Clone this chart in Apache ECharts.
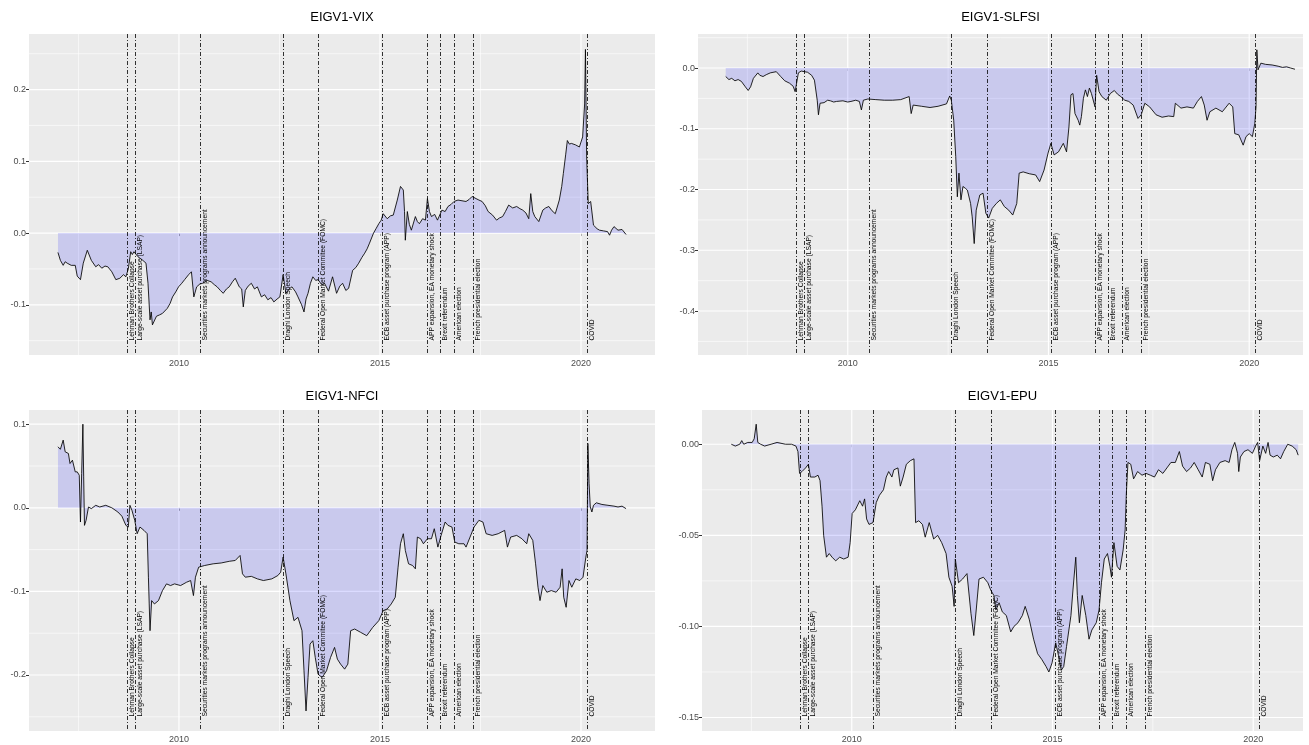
<!DOCTYPE html>
<html>
<head>
<meta charset="utf-8">
<script src="https://cdn.jsdelivr.net/npm/echarts@6/dist/echarts.min.js"></script>
<style>
  html, body { margin: 0; padding: 0; background: #ffffff; }
  #chart { width: 1309px; height: 745px; }
</style>
</head>
<body>
<div id="chart"></div>
<script>
// ---- Events marked on every panel (decimal years) ----
const EVENT_YEARS = [2008.71, 2008.91, 2010.52, 2012.58, 2013.46, 2015.06, 2016.17, 2016.49, 2016.84, 2017.31, 2020.15];
const EVENT_LABELS = [
  'Lehman Brothers Collapse',
  'Large-scale asset purchase (LSAP)',
  'Securities markets programs announcement',
  'Draghi London Speech',
  'Federal Open Market Commitee (FOMC)',
  'ECB asset purchase program (APP)',
  'APP expansion, EA monetary shock',
  'Brexit referendum',
  'American election',
  'French presidential election',
  'COVID'
];

// ---- Axis tick labels ----
const YEAR_TICKS = [2010, 2015, 2020];
const VIX_TICKS = [-0.1, 0.0, 0.1, 0.2];
const SLFSI_TICKS = [-0.4, -0.3, -0.2, -0.1, 0.0];
const NFCI_TICKS = [-0.2, -0.1, 0.0, 0.1];
const EPU_TICKS = [-0.15, -0.10, -0.05, 0.00];

// ---- Series: [decimal year, EIGV1 correlation] ----
const VIX = [
  [2006.99,-0.027],[2007.05,-0.038],[2007.12,-0.045],[2007.17,-0.040],[2007.22,-0.042],[2007.32,-0.045],[2007.42,-0.045],
  [2007.47,-0.060],[2007.55,-0.065],[2007.62,-0.042],[2007.72,-0.024],[2007.82,-0.038],[2007.93,-0.047],[2008.00,-0.044],
  [2008.08,-0.049],[2008.16,-0.046],[2008.23,-0.047],[2008.33,-0.054],[2008.43,-0.065],[2008.53,-0.063],[2008.62,-0.058],
  [2008.68,-0.061],[2008.74,-0.050],[2008.80,-0.026],[2008.84,-0.030],[2008.88,-0.026],[2008.98,-0.033],[2009.10,-0.038],
  [2009.18,-0.042],[2009.23,-0.070],[2009.28,-0.121],[2009.31,-0.110],[2009.34,-0.128],[2009.44,-0.116],[2009.52,-0.114],
  [2009.59,-0.112],[2009.71,-0.105],[2009.78,-0.098],[2009.84,-0.089],[2009.92,-0.082],[2009.99,-0.075],[2010.07,-0.070],
  [2010.14,-0.065],[2010.24,-0.058],[2010.31,-0.054],[2010.37,-0.089],[2010.44,-0.075],[2010.52,-0.071],[2010.59,-0.070],
  [2010.70,-0.066],[2010.80,-0.068],[2010.88,-0.072],[2010.95,-0.075],[2011.03,-0.080],[2011.10,-0.084],[2011.18,-0.078],
  [2011.25,-0.075],[2011.33,-0.068],[2011.40,-0.063],[2011.50,-0.075],[2011.56,-0.078],[2011.60,-0.103],[2011.65,-0.080],
  [2011.72,-0.074],[2011.80,-0.070],[2011.88,-0.078],[2011.95,-0.075],[2012.05,-0.089],[2012.13,-0.086],[2012.21,-0.093],
  [2012.29,-0.090],[2012.36,-0.096],[2012.44,-0.092],[2012.51,-0.089],[2012.59,-0.058],[2012.66,-0.084],[2012.74,-0.078],
  [2012.81,-0.075],[2012.90,-0.082],[2012.96,-0.089],[2013.05,-0.100],[2013.11,-0.110],[2013.16,-0.092],[2013.21,-0.084],
  [2013.27,-0.070],[2013.33,-0.061],[2013.40,-0.066],[2013.46,-0.065],[2013.55,-0.072],[2013.62,-0.070],[2013.72,-0.081],
  [2013.82,-0.061],[2013.92,-0.084],[2014.00,-0.074],[2014.07,-0.070],[2014.15,-0.080],[2014.22,-0.077],[2014.32,-0.052],
  [2014.40,-0.048],[2014.47,-0.042],[2014.55,-0.034],[2014.62,-0.028],[2014.68,-0.022],[2014.74,-0.014],[2014.84,0.000],
  [2014.90,0.006],[2014.97,0.013],[2015.03,0.018],[2015.08,0.027],[2015.18,0.020],[2015.26,0.024],[2015.33,0.025],
  [2015.43,0.046],[2015.51,0.065],[2015.58,0.060],[2015.61,0.030],[2015.63,-0.010],[2015.68,0.030],[2015.73,0.012],
  [2015.78,0.004],[2015.88,0.023],[2015.93,0.016],[2015.98,0.013],[2016.06,0.020],[2016.13,0.018],[2016.18,0.048],
  [2016.23,0.030],[2016.28,0.023],[2016.36,0.026],[2016.43,0.018],[2016.54,0.032],[2016.62,0.030],[2016.69,0.037],
  [2016.77,0.040],[2016.84,0.044],[2016.94,0.046],[2017.04,0.045],[2017.14,0.044],[2017.22,0.047],[2017.29,0.051],
  [2017.39,0.048],[2017.46,0.046],[2017.54,0.044],[2017.62,0.038],[2017.69,0.030],[2017.80,0.025],[2017.90,0.018],
  [2017.97,0.021],[2018.05,0.023],[2018.12,0.030],[2018.20,0.039],[2018.30,0.035],[2018.40,0.037],[2018.48,0.034],
  [2018.55,0.032],[2018.63,0.028],[2018.70,0.020],[2018.75,0.055],[2018.80,0.030],[2018.85,0.023],[2018.95,0.016],
  [2019.05,0.032],[2019.12,0.035],[2019.20,0.037],[2019.28,0.031],[2019.36,0.027],[2019.46,0.046],[2019.52,0.065],
  [2019.56,0.083],[2019.62,0.110],[2019.66,0.129],[2019.71,0.124],[2019.76,0.125],[2019.86,0.123],[2019.96,0.120],
  [2020.04,0.134],[2020.09,0.180],[2020.11,0.256],[2020.14,0.106],[2020.18,0.041],[2020.24,0.044],[2020.31,0.011],
  [2020.40,0.006],[2020.46,0.004],[2020.56,0.003],[2020.66,0.002],[2020.71,-0.003],[2020.76,0.004],[2020.82,0.009],
  [2020.92,0.004],[2021.02,0.005],[2021.12,-0.002]
];

const SLFSI = [
  [2006.96,-0.014],[2007.04,-0.019],[2007.11,-0.017],[2007.19,-0.021],[2007.27,-0.019],[2007.35,-0.022],[2007.45,-0.031],
  [2007.52,-0.037],[2007.58,-0.031],[2007.65,-0.017],[2007.76,-0.008],[2007.81,-0.012],[2007.89,-0.014],[2007.97,-0.011],
  [2008.07,-0.008],[2008.22,-0.006],[2008.33,-0.014],[2008.43,-0.021],[2008.55,-0.025],[2008.64,-0.030],[2008.69,-0.039],
  [2008.73,-0.036],[2008.77,-0.008],[2008.84,-0.005],[2009.00,-0.007],[2009.10,-0.012],[2009.17,-0.020],[2009.24,-0.053],
  [2009.27,-0.077],[2009.31,-0.058],[2009.41,-0.057],[2009.50,-0.053],[2009.57,-0.054],[2009.65,-0.056],[2009.72,-0.055],
  [2009.88,-0.054],[2010.00,-0.056],[2010.08,-0.055],[2010.20,-0.053],[2010.29,-0.055],[2010.34,-0.069],[2010.39,-0.053],
  [2010.50,-0.051],[2010.70,-0.052],[2010.91,-0.053],[2011.12,-0.053],[2011.32,-0.052],[2011.53,-0.047],[2011.58,-0.075],
  [2011.63,-0.061],[2011.84,-0.063],[2012.05,-0.065],[2012.25,-0.063],[2012.46,-0.059],[2012.54,-0.046],[2012.58,-0.053],
  [2012.64,-0.086],[2012.69,-0.146],[2012.73,-0.212],[2012.77,-0.173],[2012.82,-0.217],[2012.87,-0.195],[2012.93,-0.198],
  [2012.98,-0.201],[2013.06,-0.223],[2013.10,-0.245],[2013.15,-0.289],[2013.20,-0.234],[2013.29,-0.209],[2013.37,-0.206],
  [2013.44,-0.239],[2013.51,-0.247],[2013.60,-0.231],[2013.70,-0.223],[2013.80,-0.217],[2013.90,-0.228],[2014.01,-0.234],
  [2014.11,-0.242],[2014.21,-0.223],[2014.27,-0.173],[2014.37,-0.171],[2014.52,-0.174],[2014.68,-0.176],[2014.78,-0.187],
  [2014.89,-0.168],[2014.99,-0.140],[2015.06,-0.124],[2015.14,-0.143],[2015.25,-0.138],[2015.37,-0.124],[2015.45,-0.138],
  [2015.51,-0.097],[2015.56,-0.044],[2015.61,-0.042],[2015.66,-0.075],[2015.74,-0.086],[2015.78,-0.094],[2015.82,-0.080],
  [2015.87,-0.050],[2015.92,-0.036],[2015.97,-0.047],[2016.02,-0.033],[2016.07,-0.042],[2016.16,-0.064],[2016.20,-0.012],
  [2016.26,-0.039],[2016.33,-0.047],[2016.44,-0.053],[2016.54,-0.042],[2016.64,-0.037],[2016.72,-0.043],[2016.80,-0.047],
  [2016.90,-0.053],[2017.00,-0.055],[2017.11,-0.061],[2017.23,-0.083],[2017.31,-0.077],[2017.40,-0.058],[2017.52,-0.064],
  [2017.68,-0.077],[2017.83,-0.081],[2017.99,-0.079],[2018.12,-0.080],[2018.16,-0.058],[2018.30,-0.066],[2018.45,-0.064],
  [2018.61,-0.066],[2018.71,-0.055],[2018.81,-0.047],[2018.88,-0.061],[2018.95,-0.086],[2019.02,-0.072],[2019.17,-0.066],
  [2019.33,-0.072],[2019.50,-0.058],[2019.59,-0.064],[2019.64,-0.108],[2019.74,-0.110],[2019.85,-0.127],[2019.92,-0.113],
  [2020.00,-0.108],[2020.08,-0.113],[2020.14,-0.091],[2020.17,-0.064],[2020.19,0.030],[2020.22,-0.003],[2020.29,0.008],
  [2020.41,0.006],[2020.57,0.005],[2020.72,0.003],[2020.83,0.001],[2020.93,0.002],[2021.03,0.000],[2021.14,-0.002]
];

const NFCI = [
  [2006.99,0.073],[2007.05,0.070],[2007.12,0.081],[2007.17,0.067],[2007.25,0.065],[2007.29,0.053],[2007.35,0.057],
  [2007.42,0.043],[2007.47,0.043],[2007.52,0.039],[2007.55,-0.017],[2007.58,0.041],[2007.61,0.100],[2007.63,0.037],
  [2007.65,-0.021],[2007.69,-0.015],[2007.75,0.001],[2007.82,-0.001],[2007.93,0.003],[2008.03,0.001],[2008.18,0.003],
  [2008.33,0.000],[2008.48,-0.005],[2008.58,-0.010],[2008.68,-0.021],[2008.74,-0.023],[2008.78,0.003],[2008.83,-0.003],
  [2008.90,-0.015],[2008.96,-0.031],[2009.03,-0.023],[2009.13,-0.027],[2009.21,-0.031],[2009.24,-0.083],[2009.26,-0.115],
  [2009.28,-0.147],[2009.32,-0.111],[2009.39,-0.115],[2009.49,-0.111],[2009.59,-0.099],[2009.69,-0.091],[2009.79,-0.093],
  [2009.89,-0.091],[2010.04,-0.093],[2010.19,-0.089],[2010.29,-0.087],[2010.36,-0.105],[2010.41,-0.083],[2010.49,-0.071],
  [2010.64,-0.069],[2010.85,-0.067],[2011.05,-0.066],[2011.25,-0.064],[2011.40,-0.063],[2011.52,-0.057],[2011.58,-0.079],
  [2011.65,-0.083],[2011.80,-0.082],[2011.95,-0.085],[2012.10,-0.087],[2012.31,-0.085],[2012.46,-0.081],[2012.53,-0.077],
  [2012.59,-0.059],[2012.66,-0.079],[2012.76,-0.111],[2012.86,-0.135],[2012.96,-0.131],[2013.06,-0.147],[2013.11,-0.195],
  [2013.16,-0.243],[2013.21,-0.203],[2013.26,-0.163],[2013.33,-0.159],[2013.39,-0.179],[2013.46,-0.199],[2013.56,-0.203],
  [2013.67,-0.195],[2013.77,-0.179],[2013.87,-0.167],[2013.94,-0.181],[2014.02,-0.187],[2014.12,-0.193],[2014.20,-0.187],
  [2014.27,-0.147],[2014.37,-0.145],[2014.52,-0.149],[2014.67,-0.153],[2014.82,-0.143],[2014.97,-0.135],[2015.08,-0.123],
  [2015.18,-0.121],[2015.28,-0.115],[2015.38,-0.107],[2015.45,-0.071],[2015.51,-0.043],[2015.58,-0.031],[2015.63,-0.051],
  [2015.71,-0.067],[2015.81,-0.069],[2015.88,-0.073],[2015.93,-0.035],[2016.01,-0.037],[2016.08,-0.043],[2016.18,-0.037],
  [2016.28,-0.037],[2016.35,-0.025],[2016.44,-0.047],[2016.52,-0.033],[2016.62,-0.017],[2016.69,-0.021],[2016.79,-0.023],
  [2016.86,-0.041],[2016.96,-0.043],[2017.09,-0.043],[2017.14,-0.047],[2017.24,-0.035],[2017.34,-0.023],[2017.46,-0.015],
  [2017.56,-0.017],[2017.64,-0.031],[2017.79,-0.033],[2017.94,-0.031],[2018.10,-0.027],[2018.17,-0.047],[2018.25,-0.035],
  [2018.40,-0.033],[2018.53,-0.037],[2018.65,-0.043],[2018.70,-0.031],[2018.80,-0.039],[2018.87,-0.067],[2018.93,-0.095],
  [2018.98,-0.111],[2019.05,-0.093],[2019.15,-0.101],[2019.26,-0.099],[2019.38,-0.101],[2019.48,-0.095],[2019.53,-0.073],
  [2019.57,-0.107],[2019.63,-0.119],[2019.70,-0.087],[2019.77,-0.095],[2019.87,-0.085],[2019.97,-0.087],[2020.05,-0.083],
  [2020.12,-0.059],[2020.15,-0.051],[2020.17,0.077],[2020.20,0.029],[2020.23,0.001],[2020.27,-0.005],[2020.31,0.003],
  [2020.38,0.006],[2020.52,0.004],[2020.67,0.003],[2020.82,0.002],[2020.92,0.001],[2021.02,0.002],[2021.12,-0.001]
];

const EPU = [
  [2007.00,0.000],[2007.10,-0.001],[2007.21,0.000],[2007.26,0.002],[2007.31,0.000],[2007.41,0.001],[2007.52,0.001],
  [2007.57,0.003],[2007.62,0.011],[2007.66,0.001],[2007.73,0.000],[2007.83,-0.001],[2007.99,0.000],[2008.14,0.001],
  [2008.35,0.000],[2008.50,0.000],[2008.61,-0.001],[2008.66,-0.004],[2008.70,-0.016],[2008.76,-0.015],[2008.85,-0.013],
  [2008.92,-0.011],[2008.97,-0.018],[2009.08,-0.018],[2009.16,-0.017],[2009.21,-0.020],[2009.26,-0.034],[2009.30,-0.050],
  [2009.37,-0.062],[2009.44,-0.060],[2009.51,-0.062],[2009.60,-0.064],[2009.70,-0.062],[2009.80,-0.063],[2009.91,-0.062],
  [2009.96,-0.054],[2010.01,-0.038],[2010.09,-0.036],[2010.20,-0.031],[2010.27,-0.034],[2010.32,-0.030],[2010.37,-0.041],
  [2010.43,-0.044],[2010.53,-0.043],[2010.61,-0.032],[2010.69,-0.028],[2010.79,-0.025],[2010.86,-0.018],[2010.92,-0.015],
  [2011.00,-0.018],[2011.05,-0.014],[2011.15,-0.013],[2011.21,-0.023],[2011.28,-0.018],[2011.36,-0.011],[2011.46,-0.009],
  [2011.55,-0.008],[2011.59,-0.043],[2011.67,-0.042],[2011.76,-0.044],[2011.83,-0.051],[2011.93,-0.043],[2012.04,-0.052],
  [2012.14,-0.050],[2012.24,-0.054],[2012.35,-0.060],[2012.42,-0.073],[2012.50,-0.078],[2012.55,-0.089],[2012.58,-0.063],
  [2012.66,-0.076],[2012.76,-0.074],[2012.87,-0.071],[2012.97,-0.093],[2013.04,-0.105],[2013.10,-0.091],[2013.17,-0.074],
  [2013.28,-0.073],[2013.39,-0.076],[2013.46,-0.080],[2013.54,-0.083],[2013.59,-0.091],[2013.67,-0.087],[2013.75,-0.092],
  [2013.85,-0.094],[2013.96,-0.103],[2014.04,-0.100],[2014.14,-0.098],[2014.25,-0.094],[2014.32,-0.089],[2014.42,-0.096],
  [2014.53,-0.107],[2014.63,-0.115],[2014.73,-0.118],[2014.84,-0.122],[2014.91,-0.125],[2014.99,-0.120],[2015.08,-0.109],
  [2015.15,-0.116],[2015.22,-0.124],[2015.28,-0.122],[2015.35,-0.111],[2015.46,-0.094],[2015.51,-0.080],[2015.58,-0.062],
  [2015.62,-0.083],[2015.67,-0.098],[2015.74,-0.083],[2015.83,-0.094],[2015.91,-0.107],[2015.98,-0.102],[2016.09,-0.098],
  [2016.16,-0.091],[2016.22,-0.076],[2016.29,-0.063],[2016.37,-0.060],[2016.43,-0.067],[2016.47,-0.073],[2016.53,-0.054],
  [2016.61,-0.067],[2016.68,-0.069],[2016.76,-0.058],[2016.81,-0.047],[2016.84,-0.027],[2016.88,-0.010],[2016.95,-0.011],
  [2017.02,-0.019],[2017.12,-0.015],[2017.23,-0.017],[2017.33,-0.016],[2017.44,-0.017],[2017.54,-0.018],[2017.64,-0.014],
  [2017.75,-0.016],[2017.85,-0.013],[2017.95,-0.010],[2018.06,-0.010],[2018.16,-0.004],[2018.24,-0.012],[2018.34,-0.015],
  [2018.44,-0.013],[2018.53,-0.010],[2018.63,-0.014],[2018.73,-0.018],[2018.81,-0.010],[2018.92,-0.011],[2018.99,-0.020],
  [2019.06,-0.014],[2019.17,-0.010],[2019.30,-0.009],[2019.40,-0.010],[2019.47,-0.003],[2019.54,0.001],[2019.61,-0.005],
  [2019.64,-0.015],[2019.68,-0.007],[2019.77,-0.004],[2019.87,-0.003],[2019.98,-0.005],[2020.06,-0.001],[2020.11,0.001],
  [2020.16,-0.009],[2020.24,-0.001],[2020.31,-0.005],[2020.37,0.001],[2020.42,-0.006],[2020.50,-0.007],[2020.60,-0.006],
  [2020.68,-0.008],[2020.76,-0.004],[2020.86,0.000],[2020.97,-0.001],[2021.07,-0.003],[2021.12,-0.006]
];

// ---- Panel layout and axis limits ----
const FONT = '"Liberation Sans", Arial, sans-serif';
const PANELS = [
  { title: 'EIGV1-VIX',   data: VIX,   yTicks: VIX_TICKS,   digits: 1, box: { left: 29,  top: 34,  width: 626, height: 321 }, x: [2006.27, 2021.84], y: [-0.170, 0.2775], titleTop: 11 },
  { title: 'EIGV1-SLFSI', data: SLFSI, yTicks: SLFSI_TICKS, digits: 1, box: { left: 698, top: 34,  width: 605, height: 321 }, x: [2006.27, 2021.34], y: [-0.4724, 0.056], titleTop: 11 },
  { title: 'EIGV1-NFCI',  data: NFCI,  yTicks: NFCI_TICKS,  digits: 1, box: { left: 29,  top: 410, width: 626, height: 321 }, x: [2006.27, 2021.84], y: [-0.267, 0.117], titleTop: 390 },
  { title: 'EIGV1-EPU',   data: EPU,   yTicks: EPU_TICKS,   digits: 2, box: { left: 702, top: 410, width: 601, height: 321 }, x: [2006.27, 2021.24], y: [-0.1574, 0.0188], titleTop: 390 }
];

// minor grid lines sit halfway between the major breaks
function minorBreaks(ticks, lo, hi) {
  const step = ticks[1] - ticks[0];
  const out = [];
  for (let v = ticks[0] - step / 2; v <= hi + 1e-9; v += step) {
    if (v >= lo - 1e-9) out.push(+v.toFixed(6));
  }
  return out;
}

const option = {
  animation: false,
  backgroundColor: '#ffffff',
  title: [], grid: [], xAxis: [], yAxis: [], series: []
};

PANELS.forEach((p, i) => {
  option.title.push({
    text: p.title,
    left: p.box.left + p.box.width / 2,
    top: p.titleTop,
    textAlign: 'center',
    padding: 0,
    textStyle: { fontFamily: FONT, fontSize: 13, fontWeight: 'normal', color: '#000000' }
  });
  option.grid.push(Object.assign({
    show: true, backgroundColor: '#EBEBEB', borderWidth: 0, containLabel: false
  }, p.box));
  option.xAxis.push({
    type: 'value', gridIndex: i, min: p.x[0], max: p.x[1],
    axisLine: { show: false },
    splitLine: { show: false },
    axisTick: { show: true, length: 3, lineStyle: { color: '#333333', width: 1 }, customValues: YEAR_TICKS },
    axisLabel: { show: true, margin: 4, color: '#4D4D4D', fontFamily: FONT, fontSize: 9, customValues: YEAR_TICKS, formatter: v => String(Math.round(v)) }
  });
  option.yAxis.push({
    type: 'value', gridIndex: i, min: p.y[0], max: p.y[1],
    axisLine: { show: false },
    splitLine: { show: false },
    axisTick: { show: true, length: 3, lineStyle: { color: '#333333', width: 1 }, customValues: p.yTicks },
    axisLabel: { show: true, margin: 3, color: '#4D4D4D', fontFamily: FONT, fontSize: 9, customValues: p.yTicks, formatter: v => v.toFixed(p.digits) }
  });

  const xMinor = minorBreaks(YEAR_TICKS, p.x[0], p.x[1]);
  const yMinor = minorBreaks(p.yTicks, p.y[0], p.y[1]);

  // background grid (white major + thinner minor lines)
  option.series.push({
    type: 'custom', xAxisIndex: i, yAxisIndex: i, z: 1, silent: true,
    data: [[p.x[0], p.y[0]]],
    renderItem: (params, api) => {
      const cs = params.coordSys;
      const kids = [];
      const vline = (v, w) => {
        const px = api.coord([v, p.y[0]])[0];
        kids.push({ type: 'line', shape: { x1: px, y1: cs.y, x2: px, y2: cs.y + cs.height }, style: { stroke: '#ffffff', lineWidth: w } });
      };
      const hline = (v, w) => {
        const py = api.coord([p.x[0], v])[1];
        kids.push({ type: 'line', shape: { x1: cs.x, y1: py, x2: cs.x + cs.width, y2: py }, style: { stroke: '#ffffff', lineWidth: w } });
      };
      xMinor.forEach(v => vline(v, 0.6));
      yMinor.forEach(v => hline(v, 0.6));
      YEAR_TICKS.forEach(v => vline(v, 1.2));
      p.yTicks.forEach(v => hline(v, 1.2));
      return { type: 'group', children: kids };
    }
  });

  // the series itself, shaded towards zero
  option.series.push({
    type: 'line', name: p.title, xAxisIndex: i, yAxisIndex: i, z: 2,
    data: p.data, showSymbol: false, symbol: 'none', smooth: false,
    lineStyle: { color: '#000000', width: 0.85 },
    areaStyle: { color: 'rgba(0,0,255,0.2)', origin: 'auto' }
  });

  // event markers: dot-dash vertical line + rotated caption
  option.series.push({
    type: 'custom', xAxisIndex: i, yAxisIndex: i, z: 3, silent: true,
    data: EVENT_YEARS.map((x, k) => [x, k]),
    renderItem: (params, api) => {
      const cs = params.coordSys;
      const x = api.value(0);
      const k = api.value(1);
      const px = Math.round(api.coord([x, p.y[0]])[0]) + 0.5;
      const bottom = cs.y + cs.height;
      return {
        type: 'group',
        children: [
          { type: 'line', shape: { x1: px, y1: cs.y, x2: px, y2: bottom },
            style: { stroke: '#000000', lineWidth: 0.8, lineDash: [4, 2, 1, 2] } },
          { type: 'text', x: px + 1.5, y: bottom - 14.5, rotation: Math.PI / 2,
            style: { text: EVENT_LABELS[k], fill: '#000000', font: '6.7px ' + FONT, align: 'left', verticalAlign: 'top' } }
        ]
      };
    }
  });
});

const chart = echarts.init(document.getElementById('chart'), null, { renderer: 'canvas' });
chart.setOption(option);
</script>
</body>
</html>
